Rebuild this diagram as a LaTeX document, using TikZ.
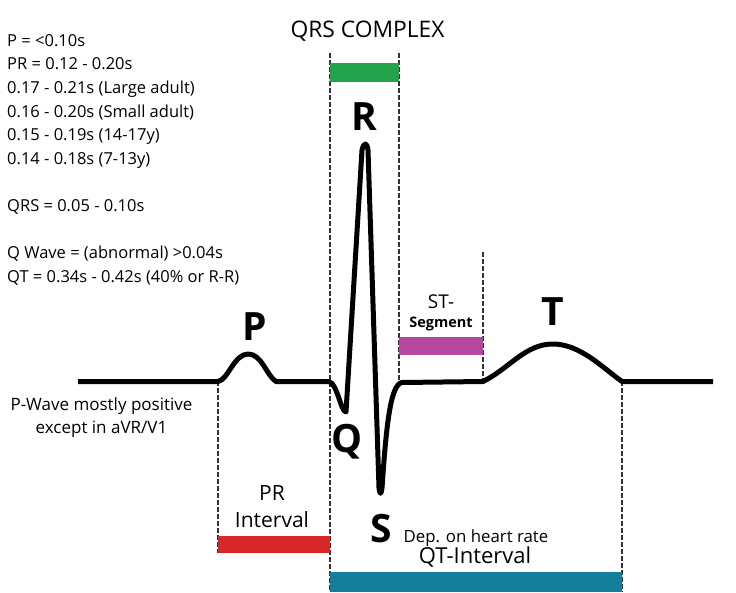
\documentclass[tikz,border=0pt]{standalone}
\usepackage{fontspec}
\setmainfont{Open Sans}
\definecolor{qrsgreen}{HTML}{22A24A}
\definecolor{stmag}{HTML}{B5479F}
\definecolor{prred}{HTML}{D8272A}
\definecolor{qtteal}{HTML}{137F9A}
\definecolor{dashgray}{HTML}{333333}
\begin{document}
\begin{tikzpicture}[x=1pt,y=-1pt,
  txt/.style={inner sep=0pt, anchor=base west, font=\fontsize{16.5}{20}\selectfont},
  lbl/.style={inner sep=0pt, anchor=base},
  wave/.style={inner sep=0pt, anchor=base, font=\fontsize{39}{40}\selectfont\bfseries},
  guide/.style={dashgray, line width=1.1pt, dash pattern=on 4.5pt off 2.5pt},
  ecg/.style={black, line width=5pt, line join=round},
  bar/.style={draw=none}]
\useasboundingbox (0,0) rectangle (736,592);
\fill[white] (0,0) rectangle (736,592);

% left text block
\node[txt] (t1) at (7,46.2) {P = <0.10s};
\node[txt] (t2) at (7,69.8) {PR = 0.12 - 0.20s};
\node[txt] (t3) at (7,93.4) {0.17 - 0.21s (Large adult)};
\node[txt] (t4) at (7,117) {0.16 - 0.20s (Small adult)};
\node[txt] (t5) at (7,140.6) {0.15 - 0.19s (14-17y)};
\node[txt] (t6) at (7,164.2) {0.14 - 0.18s (7-13y)};
\node[txt] (t7) at (7,211.4) {QRS = 0.05 - 0.10s};
\node[txt] (t8) at (7,258.6) {Q Wave = (abnormal) >0.04s};
\node[txt] (t9) at (7,282.2) {QT = 0.34s - 0.42s (40\% or R-R)};

\node[lbl, font=\fontsize{17}{20}\selectfont] (pw1) at (101.5,410) {P-Wave mostly positive};
\node[lbl, font=\fontsize{17}{20}\selectfont] (pw2) at (101.5,433) {except in aVR/V1};

% guides
\draw[guide] (330,53) -- (330,592);
\draw[guide] (399,53) -- (399,381);
\draw[guide] (483,252) -- (483,381);
\draw[guide] (218,381) -- (218,553);
\draw[guide] (622,381) -- (622,592);

% bars
\fill[qrsgreen] (330,63) rectangle (399,82);
\fill[stmag] (399,337) rectangle (483,355);
\fill[prred] (218,536) rectangle (330,553);
\fill[qtteal] (330,572) rectangle (622,592);

% ECG trace
\draw[ecg] (78,381.5) -- (218,381.5)
  .. controls (228,380) and (234,354) .. (248,354)
  .. controls (262,354) and (266,375) .. (276,381.5)
  -- (329,381.5)
  .. controls (337,383) and (341,412) .. (346,412)
  -- (362,150) .. controls (364,142) and (367,142) .. (368,150)
  -- (379,488) .. controls (380,495) and (381,495) .. (382,488)
  .. controls (386,430) and (390,384) .. (402,382.5)
  -- (483,381.5)
  .. controls (510,368) and (525,344) .. (553,344)
  .. controls (580,344) and (603,368) .. (622,381.5)
  -- (713,381.5);

% labels
\node[lbl, font=\fontsize{22.8}{24}\selectfont] (qrs) at (367.5,37.3) {QRS COMPLEX};
\node[wave] (R) at (364,130) {R};
\node[wave] (P) at (255,340) {P};
\node[wave] (Q) at (347,452) {Q};
\node[wave] (S) at (381,542) {S};
\node[wave] (T) at (553,325) {T};
\node[lbl, font=\fontsize{19}{20}\selectfont] (st1) at (441,308) {ST-};
\node[lbl, font=\fontsize{14.5}{16}\selectfont\bfseries] (st2) at (441,327) {Segment};
\node[lbl, font=\fontsize{21}{22}\selectfont] (pr1) at (272,500) {PR};
\node[lbl, font=\fontsize{21}{22}\selectfont] (pr2) at (272,527) {Interval};
\node[lbl, font=\fontsize{16.8}{18}\selectfont] (dep) at (476,542) {Dep. on heart rate};
\node[lbl, font=\fontsize{22}{24}\selectfont] (qt) at (475,563) {QT-Interval};
\end{tikzpicture}
\end{document}
